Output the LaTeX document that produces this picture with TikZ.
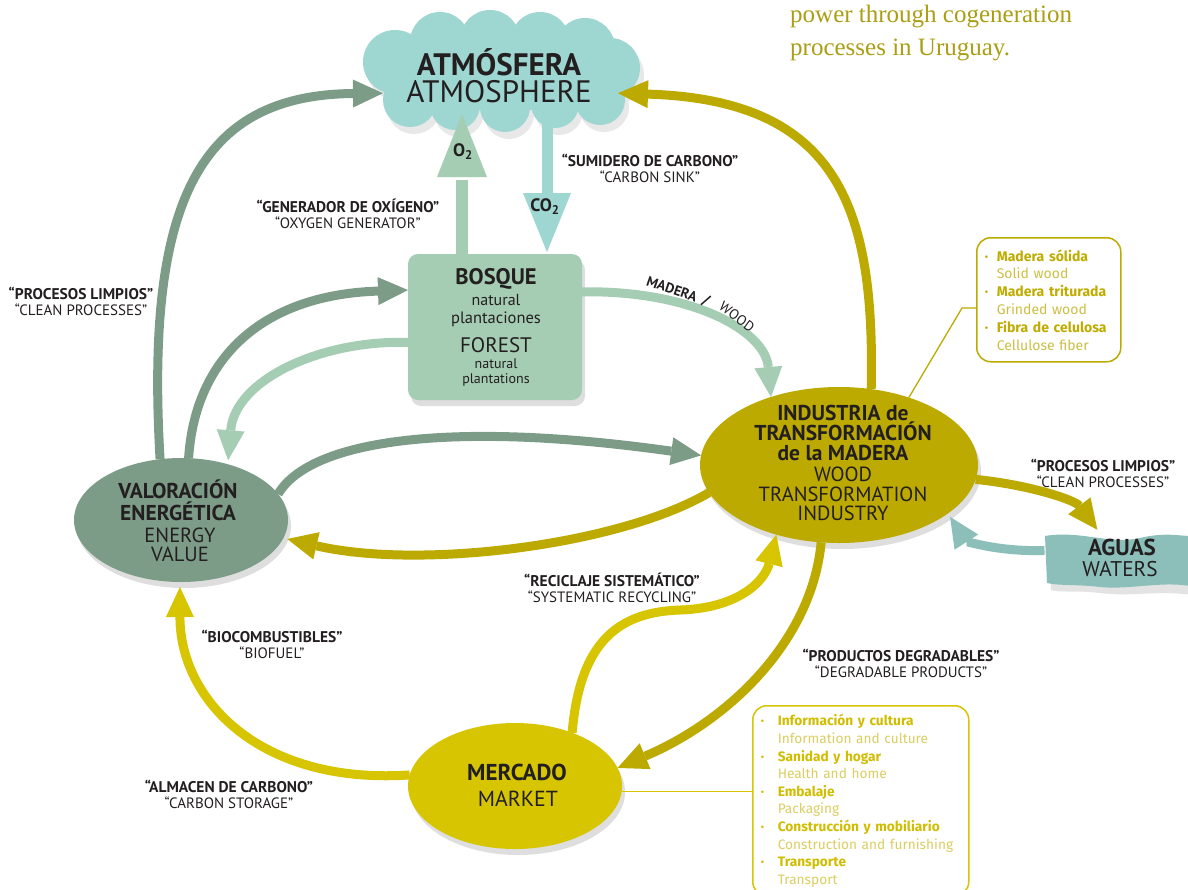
\documentclass[tikz,border=0pt]{standalone}
\usepackage{fontspec}
\setmainfont{PT Sans}
\newfontfamily\boxfont{Fira Sans}
\newfontfamily\seriffont{Liberation Serif}
\usetikzlibrary{arrows.meta,calc,shadows,shapes.geometric}
\definecolor{cloudc}{HTML}{9ED6D1}
\definecolor{bosc}{HTML}{A5CDB3}
\definecolor{valc}{HTML}{7D9C88}
\definecolor{indc}{HTML}{BDAA00}
\definecolor{merc}{HTML}{D6C500}
\definecolor{aguc}{HTML}{8CBFBA}
\definecolor{txt}{HTML}{231F20}
\definecolor{boxb}{HTML}{C0AC00}
\definecolor{boxl}{HTML}{CDBF45}
\definecolor{boxbb}{HTML}{D0BD00}
\definecolor{boxll}{HTML}{DBCE62}
\definecolor{topc}{HTML}{AA9F14}
\newcommand{\myb}[3]{\makebox[#1][l]{\textcolor{#2}{\textbf{·}}}\textcolor{#2}{\textbf{#3}}}
\newcommand{\myl}[3]{\hspace*{#1}\textcolor{#2}{#3}}
\newcommand{\bl}[1]{{\fontsize{15.5}{16}\selectfont\bfseries #1}}
\tikzset{
  con/.style={line width=9pt, -{Triangle[length=30pt,width=28pt,line width=0pt]}},
  lab/.style={align=center, text=txt, inner sep=0pt, font=\fontsize{15}{16}\selectfont},
  shd/.style={drop shadow={shadow xshift=3pt,shadow yshift=-6pt,fill=black,opacity=0.13}},
  blob/.style={ellipse, inner sep=0pt, outer sep=0pt, shd},
  listbox/.style={draw, line width=1.5pt, rounded corners=14pt, align=left, anchor=north west,
     inner ysep=4pt},
  bline/.style={anchor=base, text=txt, inner sep=0pt},
  bb/.style={bline, font=\bfseries\fontsize{#1}{#1}\selectfont},
  rr/.style={bline, font=\fontsize{#1}{#1}\selectfont}
}
\begin{document}
\begin{tikzpicture}[x=1pt,y=-1pt]
\useasboundingbox (0,0) rectangle (1188,889);
\fill[white] (0,0) rectangle (1188,889);

% cloud shadow and cloud
\foreach \cx/\cy/\cr in {395/62/32, 410/100/27, 440/42/30, 490/40/30, 540/42/30, 585/48/30, 610/68/30, 600/100/25, 455/105/25, 505/107/25, 555/104/24}
  {\fill[black!9] (\cx+4,\cy+7) circle (\cr);}
\fill[black!9] (404,52) rectangle (609,117);
\foreach \cx/\cy/\cr in {395/62/32, 410/100/27, 440/42/30, 490/40/30, 540/42/30, 585/48/30, 610/68/30, 600/100/25, 455/105/25, 505/107/25, 555/104/24}
  {\fill[cloudc] (\cx,\cy) circle (\cr);}
\fill[cloudc] (400,45) rectangle (605,110);
\node[minimum width=235pt, minimum height=85pt, inner sep=0pt, outer sep=0pt] (atm) at (500.5,72.5) {};
\node[bb=31] (atm1) at (499,75) {ATMÓSFERA};
\node[rr=31] (atm2) at (499,102) {ATMOSPHERE};

% main nodes
\node[rectangle, rounded corners=10pt, fill=bosc, minimum width=174pt, minimum height=146pt,
  inner sep=0pt, outer sep=0pt, shd] (bos) at (495,327) {};
\node[blob, fill=indc, minimum width=278pt, minimum height=156pt] (ind) at (839,465) {};
\node[blob, fill=valc, minimum width=214pt, minimum height=124pt] (val) at (181,520) {};
\node[blob, fill=merc, minimum width=214pt, minimum height=126pt] (mer) at (515,786) {};

% waters
\fill[black!11] (1049,543) .. controls (1080,537) and (1110,552) .. (1140,545) .. controls (1165,539) and (1180,543) .. (1192,543)
  -- (1192,595) .. controls (1160,590) and (1130,597) .. (1100,593) .. controls (1075,590) and (1060,593) .. (1051,590) -- cycle;
\fill[aguc] (1045,536) .. controls (1080,530) and (1110,545) .. (1140,538) .. controls (1165,532) and (1180,536) .. (1190,536)
  -- (1190,586) .. controls (1160,581) and (1130,590) .. (1100,587) .. controls (1075,584) and (1060,586) .. (1047,583) -- cycle;
\node[minimum width=143pt, minimum height=50pt, inner sep=0pt, outer sep=0pt] (agu) at (1116,558) {};

% node texts
\node[bb=22.5] (b1) at (496,284) {BOSQUE};
\node[rr=16] (b2) at (496,305) {natural};
\node[rr=16.5] (b3) at (496,323) {plantaciones};
\node[rr=21] (b4) at (496,352) {FOREST};
\node[rr=14] (b5) at (496,368) {natural};
\node[rr=14] (b6) at (496,383) {plantations};
\node[bb=21.5] (i1) at (843,420) {INDUSTRIA de};
\node[bb=21.5] (i2) at (843,440) {TRANSFORMACIÓN};
\node[bb=21.5] (i3) at (843,460) {de la MADERA};
\node[rr=20.5] (i4) at (843,481) {WOOD};
\node[rr=20.5] (i5) at (843,501) {TRANSFORMATION};
\node[rr=20.5] (i6) at (843,520) {INDUSTRY};
\node[bb=21.5] (v1) at (178,498) {VALORACIÓN};
\node[bb=21.5] (v2) at (178,520) {ENERGÉTICA};
\node[rr=20.5] (v3) at (180,542) {ENERGY};
\node[rr=20.5] (v4) at (180,561) {VALUE};
\node[bb=23] (m1) at (517,780) {MERCADO};
\node[rr=21.8] (m2) at (518,806) {MARKET};
\node[bb=23] (a1) at (1122,555) {AGUAS};
\node[rr=21.3] (a2) at (1120,576) {WATERS};

% O2 and CO2
\coordinate (o2s) at ($(bos.north west)+(54,0)$);
\coordinate (o2t) at (462,114);
\draw[bosc, line width=12pt] (o2s) -- ($(o2t)+(0,66)$);
\fill[bosc] ($(o2t)+(-25,63)$) -- ($(o2t)+(25,63)$) -- (o2t) -- cycle;
\node[text=txt, font=\bfseries\fontsize{18}{18}\selectfont, inner sep=0pt] (o2l) at (463,152) {O\textsubscript{2}};
\coordinate (co2s) at (547,110);
\coordinate (co2t) at ($(bos.north west)+(139,-2)$);
\draw[cloudc, line width=11pt] (co2s) -- ($(co2t)+(0,-56)$);
\fill[cloudc] ($(co2t)+(-24,-59)$) -- ($(co2t)+(24,-59)$) -- (co2t) -- cycle;
\node[text=txt, font=\bfseries\fontsize{18}{18}\selectfont, inner sep=0pt] (co2l) at (545,207) {CO\textsubscript{2}};

% connectors
\draw[con, valc] (val.109) .. controls (145,200) and (200,95) .. (atm.190);
\draw[con, valc] (val.83) .. controls (195,360) and (260,295) .. (bos.157);
\draw[con, bosc, shorten >=4pt] (bos.190) .. controls (320,340) and (235,380) .. (val.50);
\draw[con, valc] (val.15) .. controls (310,440) and (450,420) .. (ind.176);
\draw[con, indc, shorten >=4pt] (ind.192) .. controls (620,545) and (420,570) .. (val.-10);
\draw[con, bosc] (bos.22) .. controls (690,290) and (765,330) .. (ind.135);
\draw[con, indc] (ind.67) .. controls (875,210) and (840,100) .. (atm.-10);
\draw[con, indc, shorten >=4pt] (ind.-6) .. controls (1030,485) and (1075,500) .. (agu.123);
\draw[con, aguc, shorten >=4pt] (agu.174) .. controls (995,552) and (965,540) .. (ind.-24);
\draw[con, indc] (ind.257) .. controls (812,640) and (730,720) .. (mer.10);
\draw[con, merc] (mer.43) .. controls (580,640) and (620,612) .. (680,610) .. controls (740,608) and (765,580) .. (ind.228);
\draw[con, merc, shorten >=5pt] (mer.174) .. controls (260,785) and (180,700) .. (val.-91);

% labels
\node[lab] (lgen) at (348,214) {\bl{“GENERADOR DE OXÍGENO”}\\“OXYGEN GENERATOR”};
\node[lab] (lsum) at (650,168) {\bl{“SUMIDERO DE CARBONO”}\\“CARBON SINK”};
\node[lab] (lpl1) at (81,301) {\bl{“PROCESOS LIMPIOS”}\\“CLEAN PROCESSES”};
\node[lab] (lpl2) at (1103,473) {\bl{“PROCESOS LIMPIOS”}\\“CLEAN PROCESSES”};
\node[lab] (lrec) at (612,588) {\bl{“RECICLAJE SISTEMÁTICO”}\\“SYSTEMATIC RECYCLING”};
\node[lab] (lpro) at (901,663) {\bl{“PRODUCTOS DEGRADABLES”}\\“DEGRADABLE PRODUCTS”};
\node[lab] (lbio) at (272,644) {\bl{“BIOCOMBUSTIBLES”}\\“BIOFUEL”};
\node[lab] (lalm) at (229,794) {\bl{“ALMACEN DE CARBONO”}\\“CARBON STORAGE”};
\node[text=txt, inner sep=0pt, rotate=-19, font=\bfseries\fontsize{14}{14}\selectfont] (lmad) at (672,289) {MADERA};
\node[text=txt, inner sep=0pt, rotate=-25, font=\bfseries\fontsize{15}{16}\selectfont] (lsl) at (706,301) {/};
\node[text=txt, inner sep=0pt, rotate=-37, font=\fontsize{14}{14}\selectfont] (lwood) at (737,317) {WOOD};

% list boxes
\node[listbox, draw=indc, text width=128pt, inner xsep=8pt, minimum height=124pt,
  font=\boxfont\fontsize{14}{17.8}\selectfont] (box1) at (976,237)
  {\myb{12pt}{boxb}{Madera sólida}\\\myl{12pt}{boxl}{Solid wood}\\\myb{12pt}{boxb}{Madera triturada}\\\myl{12pt}{boxl}{Grinded wood}\\\myb{12pt}{boxb}{Fibra de celulosa}\\\myl{12pt}{boxl}{Cellulose fiber}};
\coordinate (b1k) at (962,308);
\draw[indc, line width=1.3pt] (ind.44) -- (b1k) -- (b1k -| box1.west);
\node[listbox, draw=merc, text width=200pt, inner xsep=8pt, minimum height=190pt,
  font=\boxfont\fontsize{13.7}{17.6}\selectfont] (box2) at (752,705)
  {\myb{17pt}{boxbb}{Información y cultura}\\\myl{17pt}{boxll}{Information and culture}\\\myb{17pt}{boxbb}{Sanidad y hogar}\\\myl{17pt}{boxll}{Health and home}\\\myb{17pt}{boxbb}{Embalaje}\\\myl{17pt}{boxll}{Packaging}\\\myb{17pt}{boxbb}{Construcción y mobiliario}\\\myl{17pt}{boxll}{Construction and furnishing}\\\myb{17pt}{boxbb}{Transporte}\\\myl{17pt}{boxll}{Transport}};
\draw[merc, line width=1.3pt] (mer.-3) -- (mer.-3 -| box2.west);

% top-right note
\node[anchor=base west, inner sep=0pt, text=topc, font=\seriffont\fontsize{25}{30}\selectfont] (note1) at (790,22) {power through cogeneration};
\node[anchor=base west, inner sep=0pt, text=topc, font=\seriffont\fontsize{25}{30}\selectfont] (note2) at (790,55) {processes in Uruguay.};
\end{tikzpicture}
\end{document}
